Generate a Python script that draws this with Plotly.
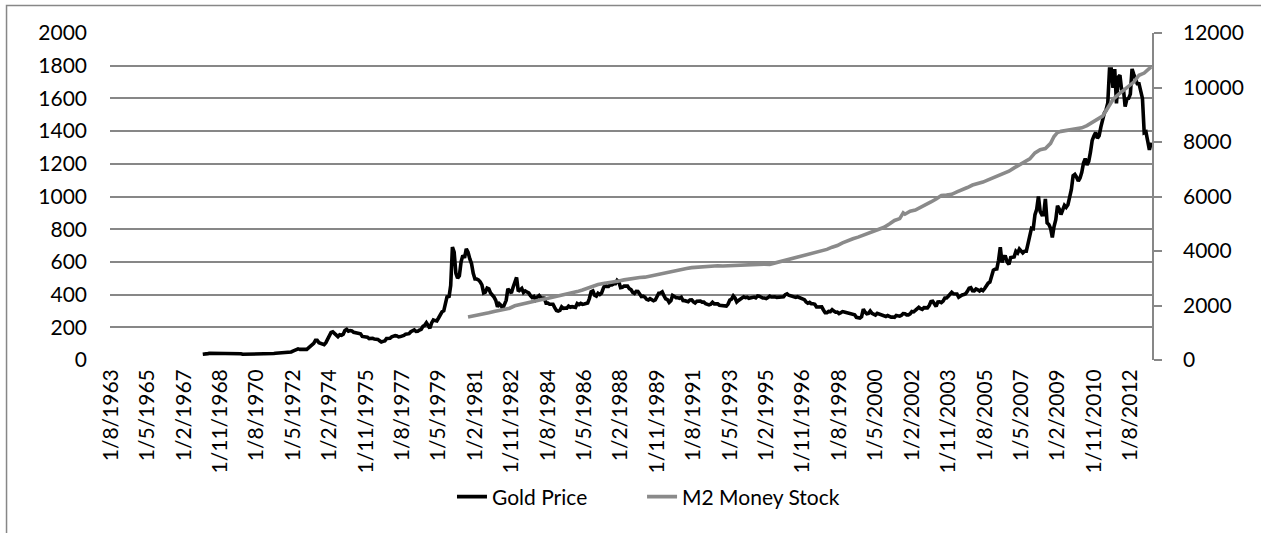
import plotly.graph_objects as go

# ---- categories: monthly, Aug 1963 .. Aug 2013 ----
start_year, start_month, n_months = 1963, 8, 601
months = []
y, m = start_year, start_month
for _ in range(n_months):
    months.append(f"1/{m}/{y}")
    m += 1
    if m > 12:
        m = 1
        y += 1
label_step = 21
tick_labels = months[::label_step]

y_ticks = list(range(0, 2001, 200))
y2_ticks = list(range(0, 12001, 2000))

# ---- Gold price, monthly, Jan 1968 .. Aug 2013 ----
gold_start = "1/1/1968"
gold_price = [
    35, 35, 38, 39, 41, 41, 40, 39, 39, 39, 40, 41,            # 1968
    42, 43, 43, 43, 43, 41, 41, 40, 40, 40, 38, 35,            # 1969
    35, 35, 35, 36, 36, 35, 35, 35, 36, 37, 37, 37,            # 1970
    38, 39, 39, 39, 40, 40, 41, 42, 42, 42, 43, 43,            # 1971
    46, 48, 48, 49, 54, 59, 66, 68, 65, 65, 63, 63,            # 1972
    65, 74, 84, 90, 102, 120, 120, 106, 103, 100, 94, 106,     # 1973
    130, 150, 168, 172, 163, 155, 143, 154, 151, 158, 181, 188,  # 1974
    176, 180, 178, 170, 167, 165, 166, 160, 144, 142, 142, 139,  # 1975
    131, 132, 133, 128, 127, 126, 118, 110, 114, 117, 131, 134,  # 1976
    133, 142, 148, 149, 147, 141, 143, 145, 150, 158, 162, 161,  # 1977
    173, 178, 184, 175, 176, 183, 188, 206, 212, 228, 205, 194,  # 1978
    227, 245, 241, 239, 257, 280, 295, 301, 355, 392, 382, 455,  # 1979
    690, 660, 530, 500, 515, 600, 640, 625, 680, 660, 620, 590,  # 1980
    530, 495, 495, 490, 478, 460, 410, 415, 440, 435, 410, 400,  # 1981
    385, 365, 325, 345, 335, 314, 340, 365, 435, 420, 410, 445,  # 1982
    480, 505, 420, 432, 438, 413, 422, 416, 410, 394, 382, 388,  # 1983
    370, 386, 394, 381, 377, 378, 348, 348, 341, 340, 341, 320,  # 1984
    303, 299, 304, 325, 316, 317, 317, 330, 323, 326, 325, 322,  # 1985
    345, 339, 346, 340, 342, 343, 348, 376, 418, 423, 396, 391,  # 1986
    408, 401, 409, 438, 460, 450, 450, 461, 460, 466, 466, 487,  # 1987
    477, 442, 444, 452, 451, 452, 436, 431, 413, 407, 420, 419,  # 1988
    404, 388, 390, 384, 371, 367, 375, 365, 362, 367, 394, 409,  # 1989
    410, 417, 393, 374, 369, 352, 362, 395, 389, 381, 381, 378,  # 1990
    384, 364, 363, 358, 357, 367, 368, 356, 349, 359, 361, 361,  # 1991
    354, 354, 345, 338, 337, 341, 353, 343, 345, 344, 335, 334,  # 1992
    329, 329, 330, 342, 367, 372, 392, 379, 355, 364, 373, 383,  # 1993
    387, 382, 384, 377, 381, 386, 385, 380, 392, 390, 384, 379,  # 1994
    379, 376, 382, 391, 385, 387, 386, 383, 383, 383, 386, 387,  # 1995
    400, 405, 396, 393, 392, 385, 383, 387, 383, 381, 378, 369,  # 1996
    355, 347, 352, 344, 344, 341, 324, 324, 323, 325, 306, 289,  # 1997
    289, 297, 296, 308, 299, 292, 293, 284, 289, 296, 294, 291,  # 1998
    287, 287, 286, 282, 277, 261, 256, 257, 265, 311, 293, 283,  # 1999
    285, 300, 286, 280, 275, 285, 282, 274, 273, 270, 266, 272,  # 2000
    266, 262, 263, 261, 272, 270, 268, 273, 284, 283, 276, 276,  # 2001
    282, 296, 294, 303, 315, 322, 314, 310, 320, 317, 319, 333,  # 2002
    357, 359, 340, 328, 355, 356, 351, 360, 379, 379, 390, 407,  # 2003
    414, 405, 406, 404, 384, 392, 398, 401, 405, 420, 439, 442,  # 2004
    424, 423, 434, 429, 422, 431, 424, 437, 456, 470, 476, 510,  # 2005
    549, 555, 557, 610, 690, 596, 633, 632, 598, 585, 627, 629,  # 2006
    631, 665, 655, 679, 667, 655, 665, 665, 712, 754, 806, 803,  # 2007
    889, 922, 1000, 909, 888, 889, 985, 839, 829, 806, 750, 816,  # 2008
    858, 943, 924, 890, 928, 946, 934, 949, 996, 1043, 1127, 1135,  # 2009
    1118, 1095, 1113, 1148, 1205, 1232, 1193, 1215, 1271, 1343, 1370, 1392,  # 2010
    1356, 1372, 1424, 1474, 1510, 1529, 1573, 1780, 1780, 1665, 1780, 1570,  # 2011
    1730, 1742, 1650, 1660, 1550, 1596, 1600, 1626, 1780, 1747, 1721, 1690,  # 2012
    1690, 1650, 1600, 1390, 1395, 1340, 1285, 1330,            # 2013
]

# ---- M2 money stock (billions), quarterly readings ----
m2_dates = [
    "1/10/1980",
    "1/1/1981", "1/4/1981", "1/7/1981", "1/10/1981",
    "1/1/1982", "1/4/1982", "1/7/1982", "1/10/1982",
    "1/1/1983", "1/4/1983", "1/7/1983", "1/10/1983",
    "1/1/1984", "1/4/1984", "1/7/1984", "1/10/1984",
    "1/1/1985", "1/4/1985", "1/7/1985", "1/10/1985",
    "1/1/1986", "1/4/1986", "1/7/1986", "1/10/1986",
    "1/1/1987", "1/4/1987", "1/7/1987", "1/10/1987",
    "1/1/1988", "1/4/1988", "1/7/1988", "1/10/1988",
    "1/1/1989", "1/4/1989", "1/7/1989", "1/10/1989",
    "1/1/1990", "1/4/1990", "1/7/1990", "1/10/1990",
    "1/1/1991", "1/4/1991", "1/7/1991", "1/10/1991",
    "1/1/1992", "1/4/1992", "1/7/1992", "1/10/1992",
    "1/1/1993", "1/4/1993", "1/7/1993", "1/10/1993",
    "1/1/1994", "1/4/1994", "1/7/1994", "1/10/1994",
    "1/1/1995", "1/4/1995", "1/7/1995", "1/10/1995",
    "1/1/1996", "1/4/1996", "1/7/1996", "1/10/1996",
    "1/1/1997", "1/4/1997", "1/7/1997", "1/10/1997",
    "1/1/1998", "1/4/1998", "1/7/1998", "1/10/1998",
    "1/1/1999", "1/4/1999", "1/7/1999", "1/10/1999",
    "1/1/2000", "1/4/2000", "1/7/2000", "1/10/2000",
    "1/1/2001", "1/4/2001", "1/7/2001", "1/9/2001", "1/10/2001",
    "1/1/2002", "1/4/2002", "1/7/2002", "1/10/2002",
    "1/1/2003", "1/4/2003", "1/7/2003", "1/10/2003",
    "1/1/2004", "1/4/2004", "1/7/2004", "1/10/2004",
    "1/1/2005", "1/4/2005", "1/7/2005", "1/10/2005",
    "1/1/2006", "1/4/2006", "1/7/2006", "1/10/2006",
    "1/1/2007", "1/4/2007", "1/7/2007", "1/10/2007",
    "1/1/2008", "1/4/2008", "1/7/2008", "1/10/2008", "1/12/2008",
    "1/2/2009", "1/4/2009", "1/7/2009", "1/10/2009",
    "1/1/2010", "1/4/2010", "1/7/2010", "1/10/2010",
    "1/1/2011", "1/4/2011", "1/7/2011", "1/10/2011",
    "1/1/2012", "1/4/2012", "1/7/2012", "1/10/2012",
    "1/1/2013", "1/4/2013", "1/7/2013", "1/8/2013",
]
m2_stock = [
    1580,
    1610, 1650, 1690, 1730,
    1780, 1820, 1860, 1900,
    1990, 2040, 2080, 2120,
    2160, 2210, 2250, 2290,
    2340, 2380, 2430, 2470,
    2510, 2570, 2640, 2710,
    2770, 2810, 2830, 2860,
    2900, 2940, 2980, 3000,
    3030, 3040, 3080, 3140,
    3190, 3230, 3260, 3290,
    3320, 3360, 3390, 3410,
    3430, 3440, 3450, 3460,
    3450, 3460, 3480, 3500,
    3510, 3520, 3520, 3520,
    3520, 3510, 3560, 3610,
    3660, 3710, 3750, 3800,
    3850, 3890, 3950, 4000,
    4060, 4140, 4200, 4300,
    4390, 4450, 4510, 4580,
    4670, 4740, 4790, 4870,
    4990, 5120, 5190, 5400, 5350,
    5460, 5500, 5590, 5680,
    5800, 5910, 6040, 6050,
    6080, 6170, 6240, 6330,
    6420, 6460, 6530, 6610,
    6690, 6760, 6830, 6930,
    7050, 7160, 7240, 7380,
    7600, 7720, 7760, 7950, 8200,
    8350, 8390, 8420, 8450,
    8480, 8520, 8600, 8710,
    8830, 8950, 9250, 9560,
    9740, 9880, 10020, 10200,
    10450, 10530, 10700, 10760,
]

gold_i0 = months.index(gold_start)
gold_x = months[gold_i0:gold_i0 + len(gold_price)]

GRID = "#878787"
FONT = "Lato"
FS = 21

fig = go.Figure()
fig.add_trace(go.Scatter(
    x=gold_x, y=gold_price, name="Gold Price", mode="lines",
    line=dict(color="#000000", width=3.6), yaxis="y", legend="legend",
))
fig.add_trace(go.Scatter(
    x=m2_dates, y=m2_stock, name="M2 Money Stock", mode="lines",
    line=dict(color="#8a8a8a", width=3.6), yaxis="y2", legend="legend2",
))

legend_common = dict(orientation="h", xanchor="left", y=-0.419, yanchor="middle",
                     font=dict(family=FONT, size=FS), bgcolor="rgba(0,0,0,0)")

fig.update_layout(
    width=1261, height=533,
    margin=dict(l=110, r=109, t=33, b=173, pad=0),
    paper_bgcolor="white", plot_bgcolor="white",
    font=dict(family=FONT, size=FS, color="#000000"),
    showlegend=True,
    legend=dict(x=0.3282, **legend_common),
    legend2=dict(x=0.5106, **legend_common),
    xaxis=dict(
        type="category", categoryorder="array", categoryarray=months,
        range=[-0.5, n_months - 0.5],
        tickmode="array", tickvals=tick_labels, ticktext=tick_labels,
        tickangle=-90, showgrid=False, zeroline=False, showline=False,
        ticks="", ticklabelstandoff=4,
        tickfont=dict(family=FONT, size=FS),
    ),
    yaxis=dict(
        range=[0, 2000], tickmode="array", tickvals=y_ticks,
        ticktext=[str(v) for v in y_ticks],
        showgrid=True, gridcolor=GRID, gridwidth=1.6, zeroline=False,
        showline=False, ticks="", ticklabelstandoff=22,
        tickfont=dict(family=FONT, size=FS),
    ),
    yaxis2=dict(
        range=[0, 12000], tickmode="array", tickvals=y2_ticks,
        ticktext=[str(v) for v in y2_ticks],
        overlaying="y", side="right", showgrid=False, zeroline=False,
        showline=True, linecolor=GRID, linewidth=1.6,
        ticks="outside", ticklen=8, tickwidth=1.6, tickcolor=GRID,
        ticklabelstandoff=17,
        tickfont=dict(family=FONT, size=FS),
    ),
    shapes=[dict(
        type="rect", xref="paper", yref="paper",
        x0=-0.0993, x1=1.12, y0=-0.6, y1=1.084,
        line=dict(color=GRID, width=1.5), fillcolor="rgba(0,0,0,0)", layer="below",
    )],
)

fig.write_html("out.html", config={"displayModeBar": False},
               post_script="document.body.style.margin='0';")
